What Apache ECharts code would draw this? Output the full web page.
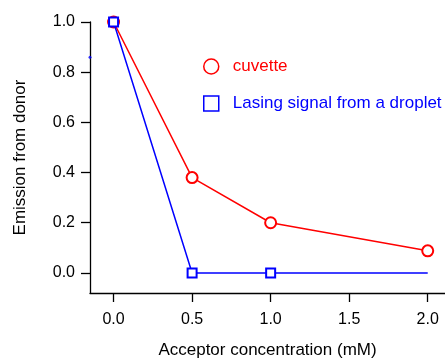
<!DOCTYPE html>
<html><head><meta charset="utf-8">
<script src="https://cdn.jsdelivr.net/npm/echarts@6/dist/echarts.min.js"></script>
<style>html,body{margin:0;padding:0;background:#fff}#c{width:445px;height:358px}</style>
</head><body><div id="c"></div>
<script>
const xTicks = [0, 0.5, 1.0, 1.5, 2.0];
const yTicks = [0, 0.2, 0.4, 0.6, 0.8, 1.0];
const cuvetteX = [0, 0.5, 1.0, 2.0];
const cuvetteY = [1.0, 0.38, 0.20, 0.088];
const dropletX = [0, 0.5, 1.0, 2.0];
const dropletY = [1.0, 0.0, 0.0, 0.0];
const dropletMarked = [true, true, true, false];
const strayX = [-0.15];
const strayY = [0.86];

const font = 'Liberation Sans, Arial, sans-serif';
const chart = echarts.init(document.getElementById('c'));
chart.setOption({
  animation: false,
  grid: {left: 90, right: 0, top: 22, bottom: 65, outerBoundsMode: 'none', containLabel: false},
  legend: {
    orient: 'vertical', left: 198, top: 53, itemGap: 20, itemWidth: 15, itemHeight: 15,
    textStyle: {fontFamily: font, fontSize: 17, padding: [0, 0, 0, 9]},
    data: [
      {name: 'cuvette', icon: 'circle', itemStyle: {color: 'transparent', borderColor: '#ff0000', borderWidth: 1.5}, textStyle: {color: '#ff0000'}},
      {name: 'Lasing signal from a droplet', icon: 'rect', itemStyle: {color: 'transparent', borderColor: '#0000ff', borderWidth: 1.5}, textStyle: {color: '#0000ff'}}
    ]
  },
  xAxis: {
    type: 'value', min: -0.15, max: 2.11,
    name: 'Acceptor concentration (mM)', nameLocation: 'middle', nameGap: 49,
    nameTextStyle: {fontFamily: font, fontSize: 17, color: '#000'},
    axisLine: {show: true, onZero: false, lineStyle: {color: '#000', width: 1.3}},
    axisTick: {show: true, length: 9, lineStyle: {color: '#000', width: 1.3}, customValues: xTicks},
    axisLabel: {fontFamily: font, fontSize: 16, color: '#000', margin: 19, customValues: xTicks, formatter: v => v.toFixed(1)},
    splitLine: {show: false}
  },
  yAxis: {
    type: 'value', min: -0.08, max: 1.0,
    name: 'Emission from donor', nameLocation: 'middle', nameGap: 61, nameRotate: 90,
    nameTextStyle: {fontFamily: font, fontSize: 17, color: '#000'},
    axisLine: {show: true, onZero: false, lineStyle: {color: '#000', width: 1.3}},
    axisTick: {show: true, length: 9, lineStyle: {color: '#000', width: 1.3}, customValues: yTicks},
    axisLabel: {fontFamily: font, fontSize: 16, color: '#000', margin: 15, customValues: yTicks, formatter: v => v.toFixed(1)},
    splitLine: {show: false}
  },
  series: [
    {
      name: 'cuvette', type: 'line', symbol: 'emptyCircle', symbolSize: 11,
      lineStyle: {color: '#ff0000', width: 1.5},
      itemStyle: {color: '#ff0000', borderWidth: 1.5},
      data: cuvetteX.map((x, i) => [x, cuvetteY[i]]), z: 2
    },
    {
      name: 'Lasing signal from a droplet', type: 'line', symbol: 'emptyRect', symbolSize: 9,
      lineStyle: {color: '#0000ff', width: 1.5},
      itemStyle: {color: '#0000ff', borderWidth: 1.5},
      data: dropletX.map((x, i) => dropletMarked[i] ? [x, dropletY[i]] : {value: [x, dropletY[i]], symbol: 'none'}), z: 3
    },
    {
      name: 'stray', type: 'scatter', symbol: 'circle', symbolSize: 3,
      itemStyle: {color: '#0000ff'}, data: strayX.map((x, i) => [x, strayY[i]]), z: 4
    }
  ]
});
</script></body></html>
